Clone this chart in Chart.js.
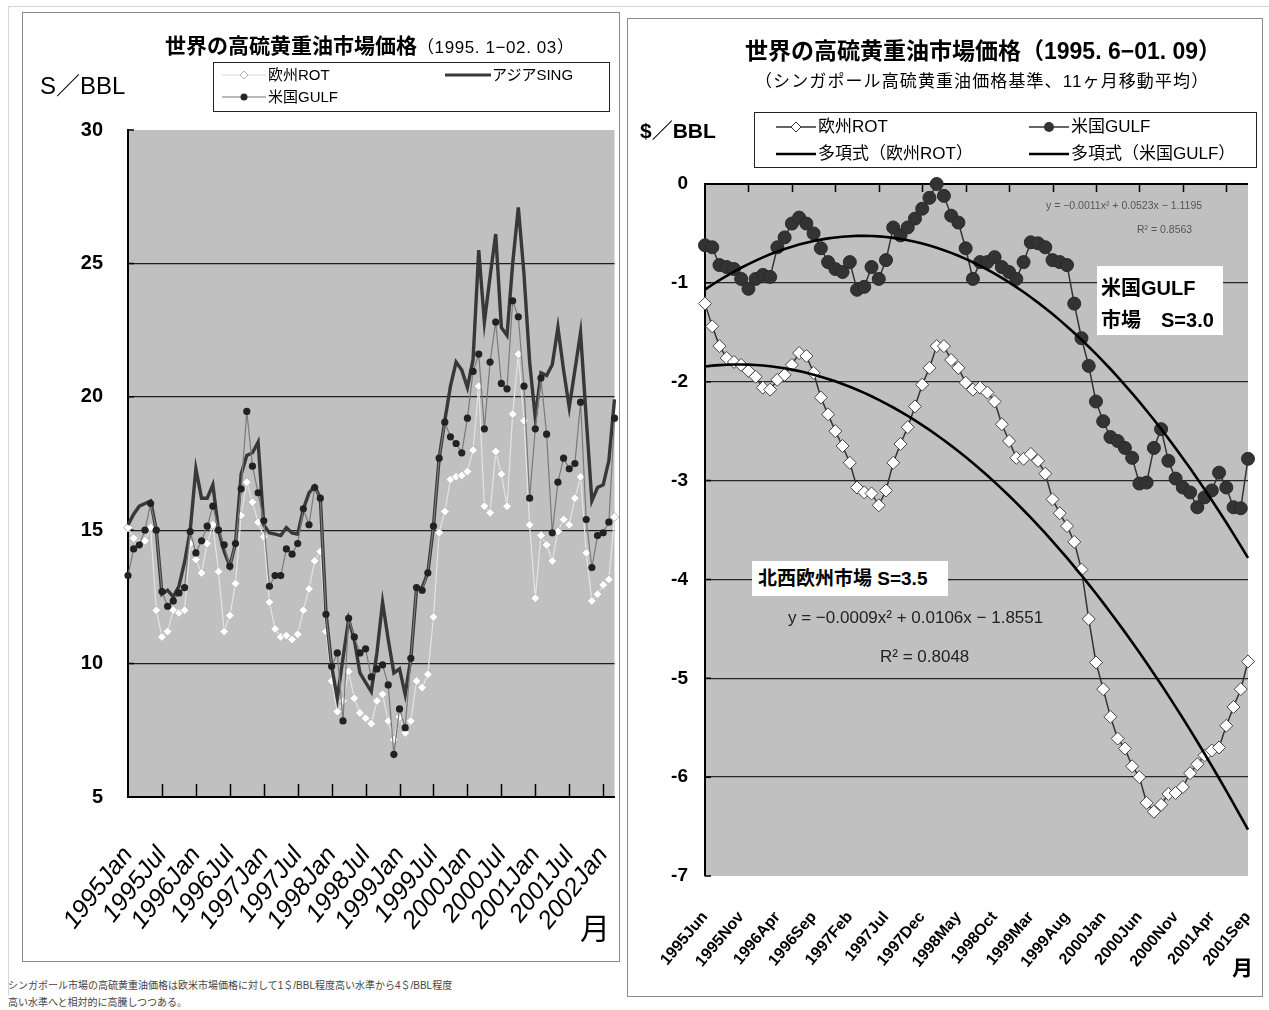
<!DOCTYPE html>
<html>
<head>
<meta charset="utf-8">
<script src="https://cdn.jsdelivr.net/npm/chart.js@4.4.1/dist/chart.umd.min.js"></script>
<style>
  body{margin:0;background:#fff;width:1269px;height:1010px;position:relative;overflow:hidden;
       font-family:"Liberation Sans","Noto Sans CJK JP",sans-serif;color:#000}
  .abs{position:absolute;white-space:nowrap;line-height:1}
  .panel{position:absolute;border:1.5px solid #8c8c8c;box-sizing:border-box;background:#fff}
  canvas{position:absolute}
  .lg{position:absolute;border:1px solid #222;background:#fff;box-sizing:border-box}
  .box{position:absolute;background:#fff;font-weight:bold;line-height:1}
  svg{position:absolute}
</style>
</head>
<body>
<div class="abs" style="left:8px;top:6px;width:1261px;height:0;border-top:1px solid #d6d6d6"></div>
<div class="abs" style="left:8px;top:6px;width:0;height:990px;border-left:1px solid #d6d6d6"></div>

<!-- left panel -->
<div class="panel" style="left:22px;top:12px;width:598px;height:950px"></div>
<canvas id="cl" width="598" height="950" style="left:22px;top:12px"></canvas>
<div class="abs" style="left:165px;top:35px">
  <span style="font-size:21px;font-weight:bold">世界の高硫黄重油市場価格</span><span style="font-size:17px;letter-spacing:0.6px">（1995. 1−02. 03）</span>
</div>
<div class="abs" style="left:40px;top:74px;font-size:24px">S／BBL</div>
<div class="lg" style="left:213px;top:62px;width:397px;height:50px"></div>
<svg style="left:222px;top:69px" width="44" height="12"><line x1="0" y1="6" x2="44" y2="6" stroke="#d8d8d8" stroke-width="1.2"/><path d="M22 2 L26 6 L22 10 L18 6 Z" fill="#fff" stroke="#b0b0b0" stroke-width="1"/></svg>
<div class="abs" style="left:268px;top:67px;font-size:15px">欧州ROT</div>
<svg style="left:222px;top:91px" width="44" height="12"><line x1="0" y1="6" x2="44" y2="6" stroke="#777" stroke-width="1.2"/><circle cx="22" cy="6" r="3.5" fill="#262626"/></svg>
<div class="abs" style="left:268px;top:89px;font-size:15px">米国GULF</div>
<svg style="left:445px;top:69px" width="46" height="12"><line x1="0" y1="6" x2="46" y2="6" stroke="#3a3a3a" stroke-width="3"/></svg>
<div class="abs" style="left:492px;top:67px;font-size:15px">アジアSING</div>
<div class="abs" style="left:580px;top:914px;font-size:30px">月</div>
<div class="abs" style="left:8px;top:977px;font-size:10px;color:#444;line-height:17px">シンガポール市場の高硫黄重油価格は欧米市場価格に対して1＄/BBL程度高い水準から4＄/BBL程度<br>高い水準へと相対的に高騰しつつある。</div>

<!-- right panel -->
<div class="panel" style="left:627px;top:18px;width:636px;height:979px"></div>
<canvas id="cr" width="636" height="979" style="left:627px;top:18px"></canvas>
<div class="abs" style="left:745px;top:40px;font-size:23px;font-weight:bold">世界の高硫黄重油市場価格（1995. 6−01. 09）</div>
<div class="abs" style="left:755px;top:73px;font-size:17px;letter-spacing:1.1px">（シンガポール高硫黄重油価格基準、11ヶ月移動平均）</div>
<div class="abs" style="left:640px;top:120px;font-size:21px;font-weight:bold">$／BBL</div>
<div class="lg" style="left:754px;top:112px;width:503px;height:56px"></div>
<svg style="left:776px;top:120px" width="40" height="14"><line x1="0" y1="7" x2="40" y2="7" stroke="#333" stroke-width="1.5"/><path d="M20 2 L25 7 L20 12 L15 7 Z" fill="#fff" stroke="#333" stroke-width="1"/></svg>
<div class="abs" style="left:818px;top:118px;font-size:17px">欧州ROT</div>
<svg style="left:1029px;top:120px" width="40" height="14"><line x1="0" y1="7" x2="40" y2="7" stroke="#333" stroke-width="1.5"/><circle cx="20" cy="7" r="5" fill="#333"/></svg>
<div class="abs" style="left:1071px;top:118px;font-size:17px">米国GULF</div>
<svg style="left:776px;top:147px" width="40" height="14"><line x1="0" y1="7" x2="40" y2="7" stroke="#000" stroke-width="2.5"/></svg>
<div class="abs" style="left:818px;top:145px;font-size:17px">多項式（欧州ROT）</div>
<svg style="left:1029px;top:147px" width="40" height="14"><line x1="0" y1="7" x2="40" y2="7" stroke="#000" stroke-width="2.5"/></svg>
<div class="abs" style="left:1071px;top:145px;font-size:17px">多項式（米国GULF）</div>

<div class="abs" style="left:1046px;top:200px;font-size:10.5px;color:#555">y = −0.0011x² + 0.0523x − 1.1195</div>
<div class="abs" style="left:1137px;top:224px;font-size:10.5px;color:#555">R² = 0.8563</div>
<div class="box" style="left:1097px;top:266px;width:126px;height:69px;font-size:20px;padding:6px 0 0 4px;box-sizing:border-box;line-height:32px">米国GULF<br>市場　S=3.0</div>
<div class="box" style="left:752px;top:561px;width:196px;height:35px;font-size:19px;padding:8px 0 0 6px;box-sizing:border-box">北西欧州市場 S=3.5</div>
<div class="abs" style="left:788px;top:609px;font-size:17px;color:#222">y = −0.0009x² + 0.0106x − 1.8551</div>
<div class="abs" style="left:880px;top:648px;font-size:17px;color:#222">R² = 0.8048</div>
<div class="abs" style="left:1232px;top:957px;font-size:21px;font-weight:bold">月</div>

<script>
// ---- left chart: monthly prices, 1995 Jan - 2002 Mar ($/BBL) ----
const leftTickLabels = ['1995Jan','1995Jul','1996Jan','1996Jul','1997Jan','1997Jul','1998Jan','1998Jul',
  '1999Jan','1999Jul','2000Jan','2000Jul','2001Jan','2001Jul','2002Jan'];
const leftSing = [15.2,15.6,15.9,16.0,16.1,15.0,12.6,12.75,12.5,12.9,
  13.8,15.0,17.3,16.2,16.2,16.7,15.0,14.2,13.65,14.5,
  17.1,17.8,17.9,18.3,15.2,14.9,14.85,14.8,15.1,14.9,
  14.85,15.8,16.4,16.65,16.2,11.9,9.9,8.7,10.2,11.65,
  10.9,9.65,9.3,8.95,10.4,12.3,10.9,9.65,9.8,8.85,
  10.2,12.8,12.85,13.4,15.15,17.7,19.1,20.4,21.3,21.0,
  20.35,21.4,25.5,22.8,24.5,26.1,22.6,22.3,25.0,27.1,
  24.6,21.3,19.2,20.9,20.8,21.2,22.6,21.0,19.6,21.0,
  22.4,19.2,16.1,16.6,16.7,17.6,19.9];
const leftGulf = [13.3,14.3,14.45,15.0,16.0,15.0,12.7,12.15,12.35,12.65,
  12.85,14.95,14.15,14.6,15.15,15.9,15.0,14.45,13.65,14.5,
  16.55,19.45,17.4,16.4,15.35,12.9,13.3,13.3,14.3,14.1,
  14.5,15.8,15.2,16.6,16.2,11.85,9.9,10.4,7.85,11.7,
  11.0,10.4,10.55,9.5,9.8,9.95,9.2,6.6,8.3,7.6,
  10.2,12.85,12.75,13.4,15.15,17.7,19.05,18.5,18.25,17.9,
  19.2,20.95,21.6,18.8,21.3,22.8,20.5,20.3,23.6,23.0,
  20.4,16.2,18.8,20.7,18.6,14.9,16.8,17.7,17.3,17.5,
  19.8,15.4,13.6,14.8,14.9,15.3,19.2];
const leftRot = [15.1,14.7,14.5,14.6,15.1,12.0,11.0,11.2,12.0,11.9,
  12.0,14.5,13.9,13.4,14.5,15.2,13.45,11.2,11.8,13.0,
  15.55,16.8,16.05,15.3,14.75,12.3,11.3,11.0,11.05,10.9,
  11.1,12.0,12.8,13.85,14.2,11.2,9.35,8.2,8.6,9.7,
  8.7,8.15,7.95,7.75,8.6,8.85,7.85,7.15,8.0,7.4,
  7.85,9.35,9.1,9.6,11.75,14.9,15.7,16.9,17.0,17.05,
  17.2,18.0,20.4,15.9,15.65,17.95,17.1,15.9,19.35,21.6,
  19.1,15.2,12.45,14.8,14.45,13.85,14.95,15.4,15.2,16.2,
  17.0,14.15,12.35,12.6,12.95,13.15,15.5];

// ---- right chart: spread vs Singapore, 11-month moving average, 1995 Jun - 2001 Sep ----
const rightTickLabels = ['1995Jun','1995Nov','1996Apr','1996Sep','1997Feb','1997Jul','1997Dec','1998May',
  '1998Oct','1999Mar','1999Aug','2000Jan','2000Jun','2000Nov','2001Apr','2001Sep'];
const rightRot = [-1.21,-1.44,-1.64,-1.76,-1.80,-1.83,-1.89,-1.95,-2.06,-2.08,
  -1.98,-1.93,-1.83,-1.71,-1.74,-1.91,-2.16,-2.33,-2.50,-2.65,
  -2.82,-3.07,-3.12,-3.13,-3.25,-3.10,-2.82,-2.63,-2.46,-2.25,
  -2.03,-1.86,-1.64,-1.64,-1.78,-1.86,-2.01,-2.08,-2.06,-2.11,
  -2.20,-2.43,-2.60,-2.77,-2.78,-2.73,-2.80,-2.93,-3.19,-3.33,
  -3.46,-3.62,-3.90,-4.40,-4.84,-5.11,-5.39,-5.61,-5.71,-5.89,
  -6.00,-6.26,-6.35,-6.28,-6.17,-6.16,-6.10,-5.96,-5.87,-5.78,
  -5.73,-5.70,-5.48,-5.29,-5.11,-4.83];
const rightGulf = [-0.62,-0.64,-0.82,-0.84,-0.86,-0.96,-1.06,-0.96,-0.92,-0.94,
  -0.64,-0.54,-0.40,-0.34,-0.40,-0.50,-0.65,-0.79,-0.86,-0.89,
  -0.79,-1.07,-1.04,-0.84,-0.96,-0.77,-0.44,-0.52,-0.44,-0.35,
  -0.25,-0.14,0.00,-0.12,-0.32,-0.39,-0.65,-0.96,-0.79,-0.79,
  -0.74,-0.84,-0.89,-0.96,-0.79,-0.59,-0.60,-0.64,-0.77,-0.79,
  -0.82,-1.21,-1.56,-1.84,-2.20,-2.40,-2.56,-2.60,-2.67,-2.77,
  -3.03,-3.02,-2.67,-2.48,-2.80,-2.98,-3.07,-3.12,-3.27,-3.17,
  -3.10,-2.92,-3.07,-3.27,-3.28,-2.78];
// quadratic trend coefficients [x^2, x, 1], x = 1-based month number
const rotTrendCoef  = [-0.000949, 0.0106, -1.8551];
const gulfTrendCoef = [-0.001149, 0.0523, -1.1195];

const MONTHS = ['Jan','Feb','Mar','Apr','May','Jun','Jul','Aug','Sep','Oct','Nov','Dec'];
function monthLabels(year, month0, count) {
  const out = [];
  for (let k = 0; k < count; k++) {
    const t = month0 + k;
    out.push((year + Math.floor(t / 12)) + MONTHS[t % 12]);
  }
  return out;
}
const leftCategories = monthLabels(1995, 0, leftSing.length);
const rightCategories = monthLabels(1995, 5, rightRot.length);
const trend = (c, n) => Array.from({length: n}, (_, i) => c[0] * (i + 1) * (i + 1) + c[1] * (i + 1) + c[2]);

const FONT = '"Liberation Sans", Arial, "Noto Sans CJK JP", sans-serif';

// grey plot area
const plotBg = {
  id: 'plotBg',
  beforeDraw(chart, args, opts) {
    const {ctx, chartArea: a} = chart;
    ctx.save();
    ctx.fillStyle = opts.color;
    ctx.fillRect(a.left, a.top, a.right - a.left, a.bottom - a.top);
    ctx.restore();
  }
};
// tick marks pointing into the plot area
const innerTicks = {
  id: 'innerTicks',
  beforeDatasetsDraw(chart, args, opts) {
    const {ctx, chartArea: a, scales: {x, y}} = chart;
    ctx.save();
    ctx.strokeStyle = '#000';
    ctx.lineWidth = opts.width;
    ctx.beginPath();
    for (let i = opts.step; i < chart.data.labels.length; i += opts.step) {
      const px = Math.round(x.getPixelForValue(i)) + 0.5;
      if (opts.edge === 'bottom') { ctx.moveTo(px, a.bottom); ctx.lineTo(px, a.bottom - opts.len); }
      else { ctx.moveTo(px, a.top); ctx.lineTo(px, a.top + opts.len); }
    }
    y.ticks.forEach(t => {
      const py = y.getPixelForValue(t.value);
      ctx.moveTo(a.left, py); ctx.lineTo(a.left + opts.ylen, py);
    });
    ctx.stroke();
    ctx.restore();
  }
};
// keep the category axis flush with the panel: no extra room for the rotated end labels
const fixXAxis = h => s => { s.height = h; s.paddingLeft = 0; s.paddingRight = 0; };

new Chart(document.getElementById('cl'), {
  type: 'line',
  data: {
    labels: leftCategories,
    datasets: [
      {label: '米国GULF', data: leftGulf, borderColor: '#7a7a7a', borderWidth: 1.2,
       pointRadius: 3.6, pointBackgroundColor: '#222', pointBorderColor: '#222', pointBorderWidth: 0,
       clip: false, order: 1},
      {label: 'アジアSING', data: leftSing, borderColor: '#383838', borderWidth: 3.4, pointRadius: 0,
       clip: false, order: 2},
      {label: '欧州ROT', data: leftRot, borderColor: '#e4e4e4', borderWidth: 1.2, pointStyle: 'rectRot',
       pointRadius: 4.5, pointBackgroundColor: '#fff', pointBorderColor: '#b8b8b8', pointBorderWidth: 1,
       clip: false, order: 3}
    ]
  },
  options: {
    responsive: false, animation: false, devicePixelRatio: 1,
    layout: {padding: {left: 0, top: 118, right: 4, bottom: 0}},
    plugins: {legend: {display: false}, tooltip: {enabled: false},
      plotBg: {color: '#c0c0c0'}, innerTicks: {step: 6, edge: 'bottom', len: 13, ylen: 6, width: 1.5}},
    scales: {
      x: {
        type: 'category', offset: false,
        grid: {display: false},
        border: {display: true, color: '#000', width: 2},
        ticks: {autoSkip: false, minRotation: 52, maxRotation: 52, padding: 36, color: '#000',
          font: {family: FONT, size: 25, style: 'italic'},
          callback(v) { const l = this.getLabelForValue(v); return leftTickLabels.includes(l) ? l : null; }},
        afterFit: fixXAxis(165)
      },
      y: {
        min: 5, max: 30,
        ticks: {stepSize: 5, padding: 25, color: '#000', font: {family: FONT, size: 20, weight: 'bold'}},
        grid: {drawTicks: false, lineWidth: 1.3,
          color: c => (c.tick.value > 5 && c.tick.value < 30) ? '#1e1e1e' : 'rgba(0,0,0,0)'},
        border: {display: true, color: '#000', width: 2},
        afterFit(s) { s.width = 106; }
      }
    }
  },
  plugins: [plotBg, innerTicks]
});

new Chart(document.getElementById('cr'), {
  type: 'line',
  data: {
    labels: rightCategories,
    datasets: [
      {label: '多項式（欧州ROT）', data: trend(rotTrendCoef, rightRot.length), borderColor: '#000',
       borderWidth: 2.6, pointRadius: 0, clip: false, order: 0},
      {label: '多項式（米国GULF）', data: trend(gulfTrendCoef, rightGulf.length), borderColor: '#000',
       borderWidth: 2.6, pointRadius: 0, clip: false, order: 0},
      {label: '米国GULF', data: rightGulf, borderColor: '#333', borderWidth: 1.5,
       pointRadius: 6.5, pointBackgroundColor: '#333', pointBorderColor: '#2a2a2a', pointBorderWidth: 1,
       clip: false, order: 1},
      {label: '欧州ROT', data: rightRot, borderColor: '#333', borderWidth: 1.5, pointStyle: 'rectRot',
       pointRadius: 6.5, pointBackgroundColor: '#fff', pointBorderColor: '#444', pointBorderWidth: 1,
       clip: false, order: 2}
    ]
  },
  options: {
    responsive: false, animation: false, devicePixelRatio: 1,
    layout: {padding: {left: 0, top: 166, right: 15, bottom: 0}},
    plugins: {legend: {display: false}, tooltip: {enabled: false},
      plotBg: {color: '#c0c0c0'}, innerTicks: {step: 6, edge: 'top', len: 8, ylen: 6, width: 1.5}},
    scales: {
      x: {
        type: 'category', offset: false,
        grid: {display: false},
        border: {display: false},
        ticks: {autoSkip: false, minRotation: 50, maxRotation: 50, padding: 24, color: '#000',
          font: {family: FONT, size: 16, weight: 'bold'},
          callback(v) { const l = this.getLabelForValue(v); return rightTickLabels.includes(l) ? l : null; }},
        afterFit: fixXAxis(121)
      },
      y: {
        min: -7, max: 0,
        ticks: {stepSize: 1, padding: 17, color: '#000', font: {family: FONT, size: 19, weight: 'bold'}},
        grid: {drawTicks: false,
          lineWidth: c => c.tick.value === 0 ? 2 : 1.3,
          color: c => c.tick.value === -7 ? 'rgba(0,0,0,0)' : (c.tick.value === 0 ? '#000' : '#262626')},
        border: {display: true, color: '#000', width: 2},
        afterFit(s) { s.width = 78; }
      }
    }
  },
  plugins: [plotBg, innerTicks]
});
</script>
</body>
</html>
